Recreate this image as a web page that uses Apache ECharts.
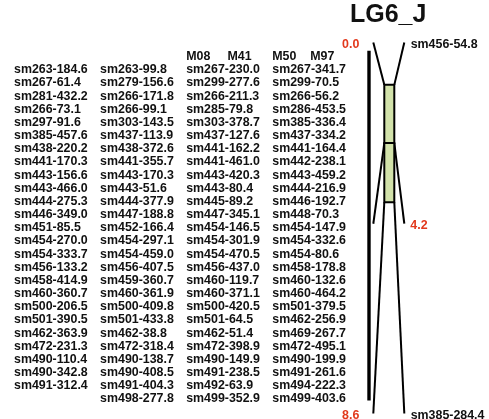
<!DOCTYPE html>
<html>
<head>
<meta charset="utf-8">
<script src="https://cdn.jsdelivr.net/npm/echarts@6/dist/echarts.min.js"></script>
<style>
html,body{margin:0;padding:0;background:#fff;}
#chart{width:489px;height:419px;}
</style>
</head>
<body>
<div id="chart"></div>
<script>
// ---------- data ----------
const groupTitle = 'LG6_J';
const columnHeaders = ['', '', 'M08     M41', 'M50    M97'];
const col1 = ['sm263-184.6','sm267-61.4','sm281-432.2','sm266-73.1','sm297-91.6','sm385-457.6','sm438-220.2','sm441-170.3','sm443-156.6','sm443-466.0','sm444-275.3','sm446-349.0','sm451-85.5','sm454-270.0','sm454-333.7','sm456-133.2','sm458-414.9','sm460-360.7','sm500-206.5','sm501-390.5','sm462-363.9','sm472-231.3','sm490-110.4','sm490-342.8','sm491-312.4'];
const col2 = ['sm263-99.8','sm279-156.6','sm266-171.8','sm266-99.1','sm303-143.5','sm437-113.9','sm438-372.6','sm441-355.7','sm443-170.3','sm443-51.6','sm444-377.9','sm447-188.8','sm452-166.4','sm454-297.1','sm454-459.0','sm456-407.5','sm459-360.7','sm460-361.9','sm500-409.8','sm501-433.8','sm462-38.8','sm472-318.4','sm490-138.7','sm490-408.5','sm491-404.3','sm498-277.8'];
const col3 = ['sm267-230.0','sm299-277.6','sm266-211.3','sm285-79.8','sm303-378.7','sm437-127.6','sm441-162.2','sm441-461.0','sm443-420.3','sm443-80.4','sm445-89.2','sm447-345.1','sm454-146.5','sm454-301.9','sm454-470.5','sm456-437.0','sm460-119.7','sm460-371.1','sm500-420.5','sm501-64.5','sm462-51.4','sm472-398.9','sm490-149.9','sm491-238.5','sm492-63.9','sm499-352.9'];
const col4 = ['sm267-341.7','sm299-70.5','sm266-56.2','sm286-453.5','sm385-336.4','sm437-334.2','sm441-164.4','sm442-238.1','sm443-459.2','sm444-216.9','sm446-192.7','sm448-70.3','sm454-147.9','sm454-332.6','sm454-80.6','sm458-178.8','sm460-132.6','sm460-464.2','sm501-379.5','sm462-256.9','sm469-267.7','sm472-495.1','sm490-199.9','sm491-261.6','sm494-222.3','sm499-403.6'];
const markerPositions = [0.0, 4.2, 8.6];          // cM
const markerNames = ['sm456-54.8', '', 'sm385-284.4'];
const segmentBounds = [0.98, 2.33, 3.70];         // central segment boundaries (map units)
const groupBarRange = [0.19, 8.30];               // left bar extent (map units)

// ---------- build ----------
const FONT = '"Liberation Sans", Arial, Helvetica, sans-serif';
const TXT = '#111111';
const RED = '#e2391d';
const GREEN = '#d2e2aa';

const columns = [col1, col2, col3, col4];
const tableItems = [];
columns.forEach((col, ci) => {
  if (columnHeaders[ci]) tableItems.push({ value: [ci, -1], text: columnHeaders[ci] });
  col.forEach((name, ri) => tableItems.push({ value: [ci, ri], text: name }));
});

// map drawing x-units (0..100)
const X_BAR = 29, X_OUT_L = 33.3, X_IN_L = 44.3, X_IN_R = 54.3, X_OUT_R = 64.3;

const chart = echarts.init(document.getElementById('chart'), null, { renderer: 'canvas' });

const option = {
  animation: false,
  backgroundColor: '#ffffff',
  title: {
    text: groupTitle,
    left: 350, top: 3, padding: 0,
    textStyle: { fontFamily: FONT, fontSize: 25, fontWeight: 'bold', color: TXT }
  },
  grid: [
    { left: 14, top: 56.7, width: 344.4, height: 26 * 13.165 },
    { left: 340, top: 42.6, width: 100, height: 8.6 * 43.13 }
  ],
  xAxis: [
    { gridIndex: 0, type: 'value', min: 0, max: 4, show: false },
    { gridIndex: 1, type: 'value', min: 0, max: 100, show: false }
  ],
  yAxis: [
    { gridIndex: 0, type: 'value', min: -1, max: 25, inverse: true, show: false },
    { gridIndex: 1, type: 'value', min: 0, max: 8.6, inverse: true, show: false }
  ],
  series: [
    {
      type: 'custom',
      xAxisIndex: 0, yAxisIndex: 0,
      data: tableItems.map(d => d.value),
      renderItem: function (params, api) {
        const p = api.coord([api.value(0), api.value(1)]);
        return {
          type: 'text', x: p[0], y: p[1],
          style: {
            text: tableItems[params.dataIndex].text,
            fill: TXT,
            font: 'bold 12.4px ' + FONT,
            align: 'left', verticalAlign: 'middle'
          }
        };
      }
    },
    {
      type: 'custom',
      xAxisIndex: 1, yAxisIndex: 1,
      data: [0],
      renderItem: function (params, api) {
        const children = [];
        // left group bar
        const b0 = api.coord([X_BAR, groupBarRange[0]]);
        const b1 = api.coord([X_BAR, groupBarRange[1]]);
        children.push({ type: 'line', shape: { x1: b0[0], y1: b0[1], x2: b1[0], y2: b1[1] },
          style: { stroke: '#000', lineWidth: 3.4 } });
        // connector lines
        markerPositions.forEach((pos, i) => {
          const yb = segmentBounds[i];
          const a1 = api.coord([X_IN_L, yb]), a2 = api.coord([X_OUT_L, pos]);
          const c1 = api.coord([X_IN_R, yb]), c2 = api.coord([X_OUT_R, pos]);
          children.push({ type: 'line', shape: { x1: a1[0], y1: a1[1], x2: a2[0], y2: a2[1] },
            style: { stroke: '#000', lineWidth: 2 } });
          children.push({ type: 'line', shape: { x1: c1[0], y1: c1[1], x2: c2[0], y2: c2[1] },
            style: { stroke: '#000', lineWidth: 2 } });
        });
        // segments
        for (let i = 0; i < segmentBounds.length - 1; i++) {
          const t = api.coord([X_IN_L, segmentBounds[i]]);
          const b = api.coord([X_IN_R, segmentBounds[i + 1]]);
          children.push({ type: 'rect', shape: { x: t[0], y: t[1], width: b[0] - t[0], height: b[1] - t[1] },
            style: { fill: GREEN, stroke: '#000', lineWidth: 2 } });
        }
        // labels
        markerPositions.forEach((pos, i) => {
          const L = api.coord([X_OUT_L, pos]);
          const R = api.coord([X_OUT_R, pos]);
          const posText = pos.toFixed(1);
          if (markerNames[i]) {
            children.push({ type: 'text', x: L[0] - 14, y: L[1] + 2,
              style: { text: posText, fill: RED, font: 'bold 12.4px ' + FONT, align: 'right', verticalAlign: 'middle' } });
            children.push({ type: 'text', x: R[0] + 6.4, y: R[1] + 2,
              style: { text: markerNames[i], fill: TXT, font: 'bold 12.4px ' + FONT, align: 'left', verticalAlign: 'middle' } });
          } else {
            children.push({ type: 'text', x: R[0] + 6, y: R[1] + 2,
              style: { text: posText, fill: RED, font: 'bold 12.4px ' + FONT, align: 'left', verticalAlign: 'middle' } });
          }
        });
        return { type: 'group', children: children };
      }
    }
  ]
};
chart.setOption(option);
</script>
</body>
</html>
